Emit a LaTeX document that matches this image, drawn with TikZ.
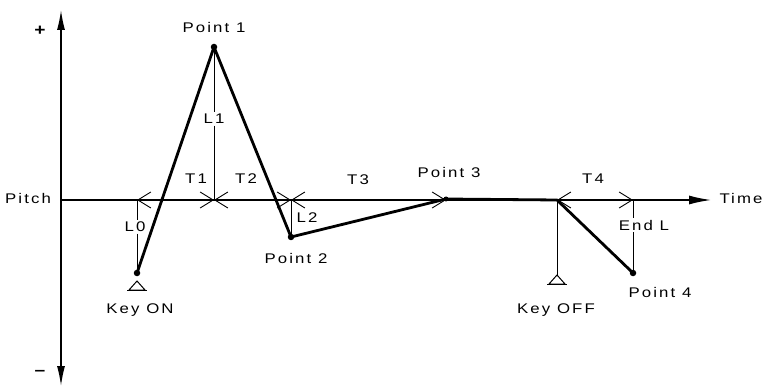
\documentclass[tikz,border=0pt]{standalone}
\usepackage{fontspec}
\setmainfont[FakeStretch=1.2,LetterSpace=15]{Liberation Sans}
\usetikzlibrary{arrows.meta}
\tikzset{
  axis/.style={line width=1.4pt},
  env/.style={line width=2.8pt, line join=round, line cap=round},
  thin/.style={line width=0.9pt},
  dim/.style={line width=0.9pt, {Straight Barb[length=13pt,width=16pt]}-{Straight Barb[length=13pt,width=16pt]}},
  dot/.style={circle, fill=black, inner sep=0pt, minimum size=6.5pt},
  lbl/.style={font=\fontsize{14}{16}\selectfont, inner sep=1pt},
  cut/.style={lbl, fill=white, inner sep=1.5pt},
  keymark/.style={line width=1pt}
}
\begin{document}
\begin{tikzpicture}[x=1pt,y=-1pt]
\useasboundingbox (0,0) rectangle (765,387);
% coordinates
\coordinate (ytop) at (61,10);
\coordinate (ybot) at (61,386);
\coordinate (xl) at (61,200);
\coordinate (xr) at (711,200);
\node[dot] (kon) at (137,273) {};
\node[dot] (p1) at (214,47) {};
\node[dot] (p2) at (291,237) {};
\node[dot, minimum size=5pt] (p3) at (446,199) {};
\coordinate (koff) at (557,200);
\node[dot] (p4) at (633,273) {};
\coordinate (a0) at (137,200);
\coordinate (a1) at (214,200);
\coordinate (a2) at (291,200);
\coordinate (a3) at (446,200);
\coordinate (a4) at (633,200);
% axes
\draw[axis, {Latex[length=20pt,width=8pt]}-{Latex[length=20pt,width=8pt]}] (ytop) -- (ybot);
\draw[axis, -{Latex[length=22pt,width=9pt]}] (xl) -- (xr);
% axis labels
\node[lbl, font=\fontsize{16}{18}\selectfont\bfseries] (plus) at (40,31) {+};
\node[lbl, font=\fontsize{16}{18}\selectfont\bfseries] (minus) at (40,373) {--};
\node[lbl] (pitch) at (28,198) {Pitch};
\node[lbl] (time) at (741,198) {Time};
% vertical level lines
\node[cut] (l0) at (135,227) {L0};
\draw[thin] (a0) -- (a0 |- l0.north);
\draw[thin] (a0 |- l0.south) -- (kon.center);
\node[cut] (l1) at (214,119) {L1};
\draw[thin] (p1.center) -- (l1.north);
\draw[thin] (l1.south) -- (a1);
\draw[thin] (a2) -- (p2.center);
\node[lbl] (l2) at (307,218) {L2};
\node[cut] (endl) at (644,225) {End L};
\draw[thin] (a4) -- (a4 |- endl.north);
\draw[thin] (a4 |- endl.south) -- (p4.center);
\draw[thin] (koff) -- (557,275);
% key marks
\draw[keymark] (129,290) -- (137,281) -- (145,290) -- cycle;
\draw[keymark] (127,290) -- (147,290);
\draw[keymark] (549,284) -- (557,275) -- (565,284) -- cycle;
\draw[keymark] (547,284) -- (567,284);
\node[lbl] (keyon) at (140,310) {Key ON};
\node[lbl] (keyoff) at (556,310) {Key OFF};
% time dimensions
\draw[dim] (a0) -- (a1);
\draw[dim] (a1) -- (a2);
\draw[dim] (a2) -- (a3);
\draw[dim] (koff) -- (a4);
\node[lbl] (t1) at (196,179) {T1};
\node[lbl] (t2) at (246,179) {T2};
\node[lbl] (t3) at (358,180) {T3};
\node[lbl] (t4) at (593,179) {T4};
% envelope
\draw[env] (kon.center) -- (p1.center) -- (p2.center) -- (p3.center) -- (koff) -- (p4.center);
% point labels
\node[lbl] (lp1) at (214,27) {Point 1};
\node[lbl] (lp2) at (296,258) {Point 2};
\node[lbl] (lp3) at (449,172) {Point 3};
\node[lbl] (lp4) at (660,292) {Point 4};
\end{tikzpicture}
\end{document}
